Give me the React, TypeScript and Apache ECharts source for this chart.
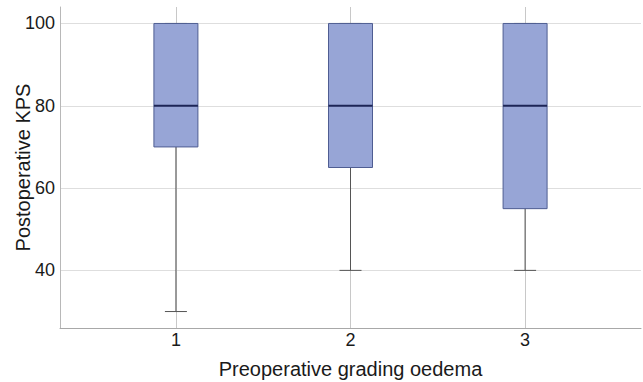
import React, { useEffect, useRef } from "react";
import * as echarts from "echarts";

const categories = ["1", "2", "3"];
const minValues = [30, 40, 40];
const q1Values = [70, 65, 55];
const medianValues = [80, 80, 80];
const q3Values = [100, 100, 100];
const maxValues = [100, 100, 100];
const yTicks = [40, 60, 80, 100];

const FONT = "'Liberation Sans', Arial, sans-serif";

export default function App() {
  const ref = useRef<HTMLDivElement>(null);
  useEffect(() => {
    if (!ref.current) return;
    const chart = echarts.init(ref.current, undefined, { renderer: "svg" });
    const positions = categories.map((_, i) => i + 1);
    const data = categories.map((_, i) => [
      positions[i],
      minValues[i],
      q1Values[i],
      medianValues[i],
      q3Values[i],
      maxValues[i],
    ]);
    const boxW = 44;
    const capW = 22;
    chart.setOption({
      animation: false,
      backgroundColor: "#ffffff",
      grid: {
        left: 60,
        right: 2,
        top: 7,
        bottom: 54,
        containLabel: false,
        outerBoundsMode: "none",
      },
      xAxis: {
        type: "value",
        min: 0.336,
        max: 3.664,
        name: "Preoperative grading oedema",
        nameLocation: "middle",
        nameGap: 31,
        nameMoveOverlap: false,
        nameTextStyle: { fontFamily: FONT, fontSize: 20, color: "#1a1a1a" },
        axisLine: { show: true, lineStyle: { color: "#a8a8a8", width: 1 } },
        axisTick: { show: false, customValues: positions },
        axisLabel: {
          customValues: positions,
          formatter: (v: number) => categories[Math.round(v) - 1] ?? "",
          fontFamily: FONT,
          fontSize: 18,
          color: "#1a1a1a",
          margin: 3,
        },
        splitLine: { show: true, lineStyle: { color: "#c8c8c8", width: 1 } },
      },
      yAxis: {
        type: "value",
        min: 26,
        max: 104,
        name: "Postoperative KPS",
        nameLocation: "middle",
        nameGap: 27,
        nameMoveOverlap: false,
        nameTextStyle: { fontFamily: FONT, fontSize: 20, color: "#1a1a1a" },
        axisLine: { show: true, lineStyle: { color: "#b8b8b8", width: 1 } },
        axisTick: { show: false, customValues: yTicks },
        axisLabel: {
          customValues: yTicks,
          fontFamily: FONT,
          fontSize: 18,
          color: "#1a1a1a",
          margin: 5,
        },
        splitLine: { show: true, lineStyle: { color: "#dedede", width: 1 } },
      },
      series: [
        {
          type: "custom",
          data,
          encode: { x: 0, y: [1, 2, 3, 4, 5] },
          renderItem: (params: any, api: any) => {
            const x = api.value(0);
            const pMin = api.coord([x, api.value(1)]);
            const pQ1 = api.coord([x, api.value(2)]);
            const pMed = api.coord([x, api.value(3)]);
            const pQ3 = api.coord([x, api.value(4)]);
            const pMax = api.coord([x, api.value(5)]);
            const cx = pMed[0];
            return {
              type: "group",
              children: [
                {
                  type: "line",
                  shape: { x1: cx, y1: pQ1[1], x2: cx, y2: pMin[1] },
                  style: { stroke: "#555555", lineWidth: 1 },
                },
                {
                  type: "line",
                  shape: { x1: cx, y1: pQ3[1], x2: cx, y2: pMax[1] },
                  style: { stroke: "#555555", lineWidth: 1 },
                },
                {
                  type: "line",
                  shape: { x1: cx - capW / 2, y1: pMin[1], x2: cx + capW / 2, y2: pMin[1] },
                  style: { stroke: "#555555", lineWidth: 1 },
                },
                {
                  type: "line",
                  shape: { x1: cx - capW / 2, y1: pMax[1], x2: cx + capW / 2, y2: pMax[1] },
                  style: { stroke: "#555555", lineWidth: 1 },
                },
                {
                  type: "rect",
                  shape: { x: cx - boxW / 2, y: pQ3[1], width: boxW, height: pQ1[1] - pQ3[1] },
                  style: { fill: "#97a5d6", stroke: "#4f5d92", lineWidth: 1 },
                },
                {
                  type: "line",
                  shape: { x1: cx - boxW / 2, y1: pMed[1], x2: cx + boxW / 2, y2: pMed[1] },
                  style: { stroke: "#1c2556", lineWidth: 2 },
                },
              ],
            };
          },
        },
      ],
    });
    return () => chart.dispose();
  }, []);
  return (
    <div
      ref={ref}
      style={{ position: "fixed", left: 0, top: 0, width: 643, height: 382 }}
    />
  );
}
